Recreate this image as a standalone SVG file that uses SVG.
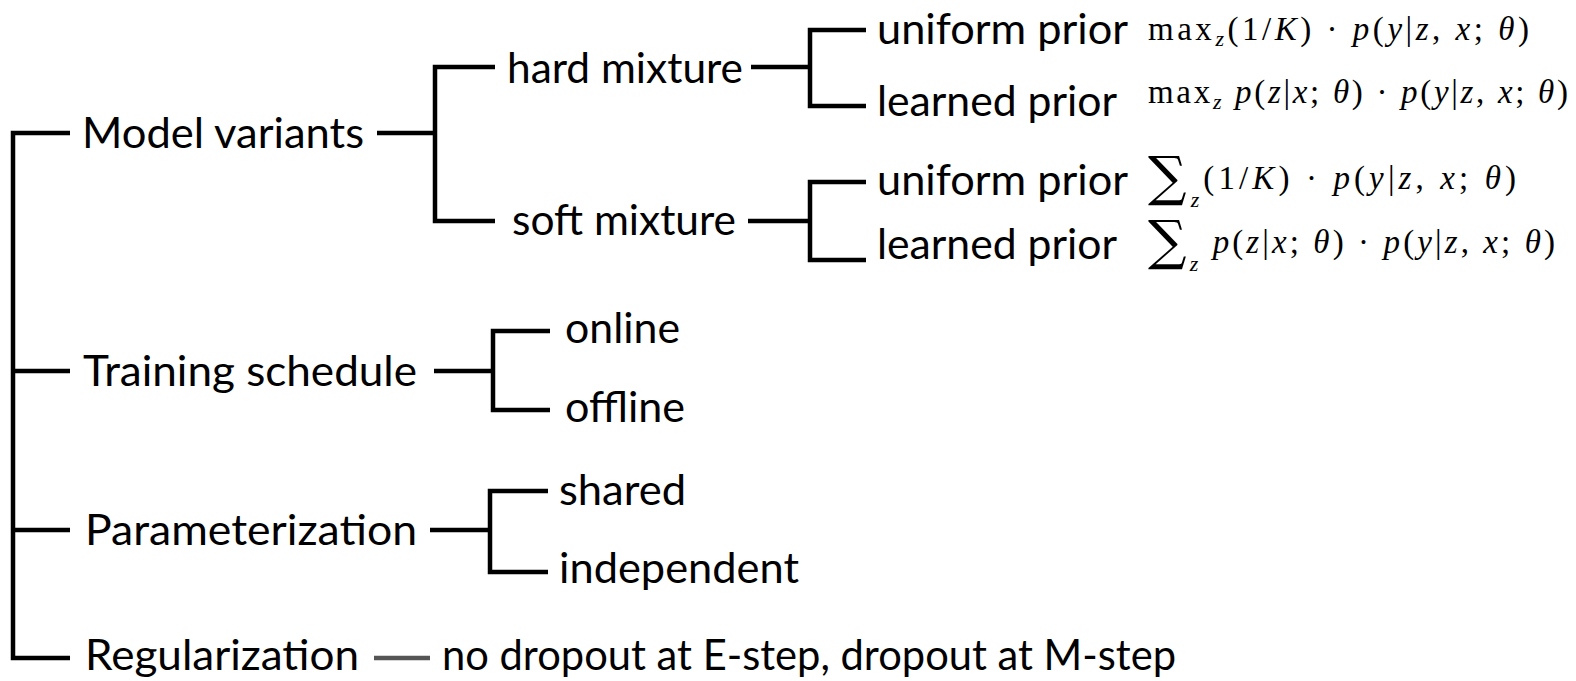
<svg xmlns="http://www.w3.org/2000/svg" width="1576" height="681" viewBox="0 0 1576 681">
  <style>
    .lbl { font-family: Lato, "Open Sans", sans-serif; font-size: 42px; font-weight: 400; fill: #000; }
    .m { font-family: "Liberation Serif", "DejaVu Serif", serif; font-size: 33px; fill: #000; }
    .i { font-style: italic; }
    .s { font-size: 22px; }
    .sum { font-family: "DejaVu Serif", serif; font-size: 54px; }
    .wire { fill: none; stroke: #000; stroke-width: 4.5; stroke-linejoin: miter; stroke-linecap: butt; }
    .wire.grey { stroke: #555; }
  </style>
  <rect width="1576" height="681" fill="#fff"/>

  <!-- tree wires -->
  <g id="connectors">
    <path class="wire" d="M70,133 H13 V658 H70 M13,371 H70 M13,530 H70"/>
    <!-- Model variants -->
    <path class="wire" d="M377,133 H435"/>
    <path class="wire" d="M495,67 H435 V221 H495"/>
    <!-- hard mixture -->
    <path class="wire" d="M751,67 H810"/>
    <path class="wire" d="M866,30 H810 V106 H866"/>
    <!-- soft mixture -->
    <path class="wire" d="M748,221 H810"/>
    <path class="wire" d="M866,182 H810 V260 H866"/>
    <!-- Training schedule -->
    <path class="wire" d="M434,371 H493"/>
    <path class="wire" d="M550,331 H493 V410 H550"/>
    <!-- Parameterization -->
    <path class="wire" d="M430,530 H490"/>
    <path class="wire" d="M548,491 H490 V572 H548"/>
    <!-- Regularization -->
    <path class="wire grey" d="M374,658 H430"/>
  </g>

  <g id="model-variants"><text class="lbl" x="82" y="148" textLength="282" lengthAdjust="spacingAndGlyphs">Model variants</text></g>
  <g id="hard-mixture"><text class="lbl" x="507" y="83" textLength="236" lengthAdjust="spacingAndGlyphs">hard mixture</text></g>
  <g id="soft-mixture"><text class="lbl" x="512" y="235" textLength="224" lengthAdjust="spacingAndGlyphs">soft mixture</text></g>

  <g id="hard-uniform">
    <text class="lbl" x="877" y="44" textLength="251" lengthAdjust="spacingAndGlyphs">uniform prior</text>
    <text class="m" x="1148" y="40" textLength="381">max<tspan class="i s" dy="6">z</tspan><tspan dy="-6">(1/</tspan><tspan class="i">K</tspan>) · <tspan class="i">p</tspan>(<tspan class="i">y</tspan>|<tspan class="i">z</tspan>, <tspan class="i">x</tspan>; <tspan class="i">θ</tspan>)</text>
  </g>
  <g id="hard-learned">
    <text class="lbl" x="877" y="116" textLength="240" lengthAdjust="spacingAndGlyphs">learned prior</text>
    <text class="m" x="1148" y="103" textLength="420">max<tspan class="i s" dy="6">z</tspan><tspan dy="-6"> </tspan><tspan class="i">p</tspan>(<tspan class="i">z</tspan>|<tspan class="i">x</tspan>; <tspan class="i">θ</tspan>) · <tspan class="i">p</tspan>(<tspan class="i">y</tspan>|<tspan class="i">z</tspan>, <tspan class="i">x</tspan>; <tspan class="i">θ</tspan>)</text>
  </g>
  <g id="soft-uniform">
    <text class="lbl" x="877" y="195" textLength="251" lengthAdjust="spacingAndGlyphs">uniform prior</text>
    <text class="m" x="1148" y="189" textLength="368"><tspan class="sum" dy="6">∑</tspan><tspan class="i s" dy="12">z</tspan><tspan dy="-18">(1/</tspan><tspan class="i">K</tspan>) · <tspan class="i">p</tspan>(<tspan class="i">y</tspan>|<tspan class="i">z</tspan>, <tspan class="i">x</tspan>; <tspan class="i">θ</tspan>)</text>
  </g>
  <g id="soft-learned">
    <text class="lbl" x="877" y="259" textLength="240" lengthAdjust="spacingAndGlyphs">learned prior</text>
    <text class="m" x="1148" y="253" textLength="407"><tspan class="sum" dy="6">∑</tspan><tspan class="i s" dy="12">z</tspan><tspan dy="-18"> </tspan><tspan class="i">p</tspan>(<tspan class="i">z</tspan>|<tspan class="i">x</tspan>; <tspan class="i">θ</tspan>) · <tspan class="i">p</tspan>(<tspan class="i">y</tspan>|<tspan class="i">z</tspan>, <tspan class="i">x</tspan>; <tspan class="i">θ</tspan>)</text>
  </g>

  <g id="training-schedule"><text class="lbl" x="83" y="386" textLength="334" lengthAdjust="spacingAndGlyphs">Training schedule</text></g>
  <g id="online"><text class="lbl" x="565" y="343" textLength="115" lengthAdjust="spacingAndGlyphs">online</text></g>
  <g id="offline"><text class="lbl" x="565" y="422" textLength="120" lengthAdjust="spacingAndGlyphs">offline</text></g>

  <g id="parameterization"><text class="lbl" x="85" y="545" textLength="332" lengthAdjust="spacingAndGlyphs">Parameterization</text></g>
  <g id="shared"><text class="lbl" x="559" y="505" textLength="127" lengthAdjust="spacingAndGlyphs">shared</text></g>
  <g id="independent"><text class="lbl" x="559" y="583" textLength="240" lengthAdjust="spacingAndGlyphs">independent</text></g>

  <g id="regularization"><text class="lbl" x="85" y="670" textLength="274" lengthAdjust="spacingAndGlyphs">Regularization</text></g>
  <g id="dropout"><text class="lbl" x="442" y="670" textLength="734" lengthAdjust="spacingAndGlyphs">no dropout at E-step, dropout at M-step</text></g>
</svg>
